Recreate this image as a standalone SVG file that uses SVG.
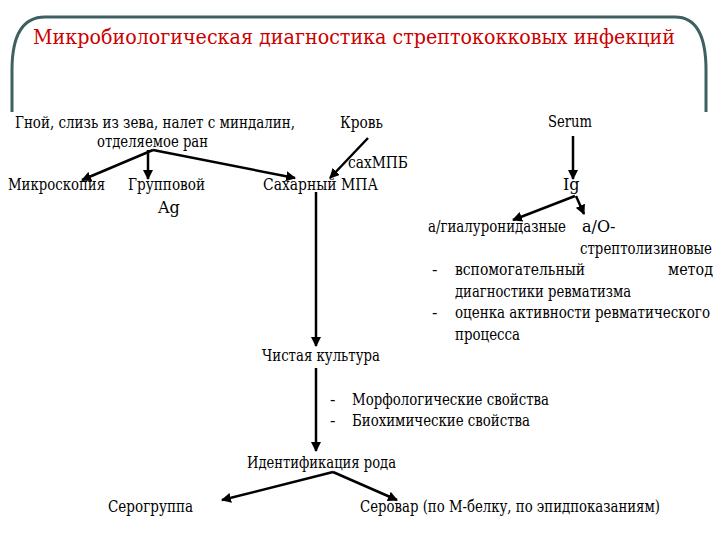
<svg xmlns="http://www.w3.org/2000/svg" width="720" height="540" viewBox="0 0 720 540">
<defs>
<marker id="ah" viewBox="0 0 10 10" refX="9" refY="5" markerWidth="4" markerHeight="4" orient="auto"><path d="M0,0 L10,5 L0,10 z" fill="#000"/></marker>
<style>
text{font-family:"DejaVu Serif","Liberation Serif",serif;font-size:16px;fill:#000}
.t{font-size:21px;fill:#cc0000}
.c{stroke:#000;stroke-width:2.5;fill:none;marker-end:url(#ah)}
.f{stroke:#3d6060;stroke-width:3;fill:none}
</style>
</defs>
<rect width="720" height="540" fill="#fff"/>
<path class="f" d="M12,112 V70 Q12,17 45,17 H675 Q706,17 706,70 V112"/>
<text class="t" x="33" y="44" textLength="642" lengthAdjust="spacingAndGlyphs">Микробиологическая диагностика стрептококковых инфекций</text>
<g id="connectors">
<path class="c" d="M153,150 L82,180"/>
<path class="c" d="M148,150 L148,179"/>
<path class="c" d="M153,150 L295,178"/>
<path class="c" d="M368,138 L330,178"/>
<path class="c" d="M316,192 L316,346"/>
<path class="c" d="M316,368 L316,451"/>
<path class="c" d="M333,472 L222,500"/>
<path class="c" d="M333,472 L397,500"/>
<path class="c" d="M573,136 L573,179"/>
<path class="c" d="M575,196 L513,220"/>
<path class="c" d="M576,196 L584,214"/>
</g>
<g id="source"><text x="15" y="128" textLength="280" lengthAdjust="spacingAndGlyphs">Гной, слизь из зева, налет с миндалин,</text><text x="97" y="147" textLength="111" lengthAdjust="spacingAndGlyphs">отделяемое ран</text></g>
<g id="micro"><text x="8" y="190" textLength="97" lengthAdjust="spacingAndGlyphs">Микроскопия</text></g>
<g id="group"><text x="128" y="190" textLength="77" lengthAdjust="spacingAndGlyphs">Групповой</text><text x="158" y="213">Ag</text></g>
<g id="blood"><text x="340" y="128" textLength="43" lengthAdjust="spacingAndGlyphs">Кровь</text><text x="348" y="168" textLength="60" lengthAdjust="spacingAndGlyphs">сахМПБ</text></g>
<g id="mpa"><text x="263" y="190" textLength="115" lengthAdjust="spacingAndGlyphs">Сахарный МПА</text></g>
<g id="pure"><text x="262" y="361" textLength="118" lengthAdjust="spacingAndGlyphs">Чистая культура</text></g>
<g id="props"><text x="330" y="405">-</text><text x="352" y="405" textLength="197" lengthAdjust="spacingAndGlyphs">Морфологические свойства</text><text x="330" y="426">-</text><text x="352" y="426" textLength="178" lengthAdjust="spacingAndGlyphs">Биохимические свойства</text></g>
<g id="ident"><text x="247" y="468" textLength="149" lengthAdjust="spacingAndGlyphs">Идентификация рода</text></g>
<g id="serogroup"><text x="108" y="512" textLength="85" lengthAdjust="spacingAndGlyphs">Серогруппа</text></g>
<g id="serovar"><text x="360" y="512" textLength="300" lengthAdjust="spacingAndGlyphs">Серовар (по М-белку, по эпидпоказаниям)</text></g>
<g id="serum"><text x="548" y="127" textLength="44" lengthAdjust="spacingAndGlyphs">Serum</text></g>
<g id="ig"><text x="563" y="190">Ig</text></g>
<g id="hyal"><text x="428" y="232" textLength="138" lengthAdjust="spacingAndGlyphs">а/гиалуронидазные</text></g>
<g id="slo"><text x="582" y="232">а/О-</text><text x="580" y="254" textLength="132" lengthAdjust="spacingAndGlyphs">стрептолизиновые</text></g>
<g id="notes">
<text x="432" y="275">-</text><text x="455" y="275" textLength="130" lengthAdjust="spacingAndGlyphs">вспомогательный</text><text x="668" y="275" textLength="45" lengthAdjust="spacingAndGlyphs">метод</text>
<text x="455" y="297" textLength="176" lengthAdjust="spacingAndGlyphs">диагностики ревматизма</text>
<text x="432" y="318">-</text><text x="455" y="318" textLength="255" lengthAdjust="spacingAndGlyphs">оценка активности ревматического</text>
<text x="455" y="340" textLength="65" lengthAdjust="spacingAndGlyphs">процесса</text>
</g>
</svg>
